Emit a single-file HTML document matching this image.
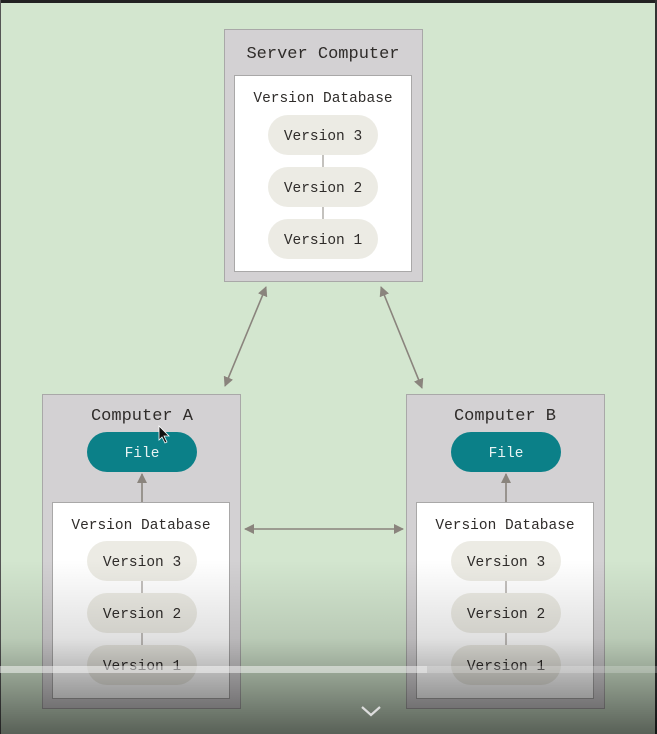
<!DOCTYPE html>
<html><head><meta charset="utf-8"><style>
html,body{margin:0;padding:0;width:657px;height:734px;overflow:hidden;background:#d3e6cf}
svg{display:block}
text{font-family:"Liberation Mono","DejaVu Sans Mono",monospace;fill:#2f2c2a}
</style></head><body>
<svg width="657" height="734" viewBox="0 0 657 734" xmlns="http://www.w3.org/2000/svg">
<defs>
<marker id="ah" markerWidth="10" markerHeight="10" refX="9" refY="5" orient="auto-start-reverse" markerUnits="userSpaceOnUse">
<path d="M0,0 L10,5 L0,10 Z" fill="#8a847d"/></marker>
<linearGradient id="ov" x1="0" y1="0" x2="0" y2="1">
<stop offset="0" stop-color="#000" stop-opacity="0"/>
<stop offset="0.45" stop-color="#000" stop-opacity="0.12"/>
<stop offset="1" stop-color="#000" stop-opacity="0.58"/>
</linearGradient>
</defs>
<rect width="657" height="734" fill="#d3e6cf"/>
<rect x="0" y="0" width="657" height="3" fill="#222"/>
<rect x="0" y="0" width="1" height="734" fill="#555"/>
<rect x="655" y="0" width="2" height="734" fill="#333"/>

<g stroke="#8a847d" stroke-width="1.6" fill="none">
<line x1="266" y1="287" x2="225" y2="386" marker-start="url(#ah)" marker-end="url(#ah)"/>
<line x1="381" y1="287" x2="422" y2="388" marker-start="url(#ah)" marker-end="url(#ah)"/>
<line x1="245" y1="529" x2="403" y2="529" marker-start="url(#ah)" marker-end="url(#ah)"/>
</g>

<rect x="224.5" y="29.5" width="198" height="252" fill="#d3d1d3" stroke="#a9a8a8"/>
<text x="323" y="58" font-size="17" text-anchor="middle">Server Computer</text>
<rect x="234.5" y="75.5" width="177" height="196" fill="#fff" stroke="#a9a8a8"/>
<text x="323" y="102" font-size="14.5" text-anchor="middle">Version Database</text>
<line x1="323" y1="150" x2="323" y2="225" stroke="#8a847d"/>
<g font-size="14.5" text-anchor="middle">
<rect x="268" y="115" width="110" height="40" rx="20" fill="#ecebe4"/><text x="323" y="140">Version 3</text>
<rect x="268" y="167" width="110" height="40" rx="20" fill="#ecebe4"/><text x="323" y="192">Version 2</text>
<rect x="268" y="219" width="110" height="40" rx="20" fill="#ecebe4"/><text x="323" y="244">Version 1</text>
</g>

<rect x="42.5" y="394.5" width="198" height="314" fill="#d3d1d3" stroke="#a9a8a8"/>
<text x="142" y="420" font-size="17" text-anchor="middle">Computer A</text>
<rect x="87" y="432" width="110" height="40" rx="20" fill="#0b8088"/>
<text x="142" y="457" font-size="14.5" text-anchor="middle" style="fill:#e8f3f3">File</text>
<rect x="52.5" y="502.5" width="177" height="196" fill="#fff" stroke="#a9a8a8"/>
<text x="141" y="529" font-size="14.5" text-anchor="middle">Version Database</text>
<line x1="142" y1="575" x2="142" y2="650" stroke="#8a847d"/>
<g font-size="14.5" text-anchor="middle">
<rect x="87" y="541" width="110" height="40" rx="20" fill="#ecebe4"/><text x="142" y="566">Version 3</text>
<rect x="87" y="593" width="110" height="40" rx="20" fill="#ecebe4"/><text x="142" y="618">Version 2</text>
<rect x="87" y="645" width="110" height="40" rx="20" fill="#ecebe4"/><text x="142" y="670">Version 1</text>
</g>

<rect x="406.5" y="394.5" width="198" height="314" fill="#d3d1d3" stroke="#a9a8a8"/>
<text x="505" y="420" font-size="17" text-anchor="middle">Computer B</text>
<rect x="451" y="432" width="110" height="40" rx="20" fill="#0b8088"/>
<text x="506" y="457" font-size="14.5" text-anchor="middle" style="fill:#e8f3f3">File</text>
<rect x="416.5" y="502.5" width="177" height="196" fill="#fff" stroke="#a9a8a8"/>
<text x="505" y="529" font-size="14.5" text-anchor="middle">Version Database</text>
<line x1="506" y1="575" x2="506" y2="650" stroke="#8a847d"/>
<g font-size="14.5" text-anchor="middle">
<rect x="451" y="541" width="110" height="40" rx="20" fill="#ecebe4"/><text x="506" y="566">Version 3</text>
<rect x="451" y="593" width="110" height="40" rx="20" fill="#ecebe4"/><text x="506" y="618">Version 2</text>
<rect x="451" y="645" width="110" height="40" rx="20" fill="#ecebe4"/><text x="506" y="670">Version 1</text>
</g>

<g stroke="#8a847d" stroke-width="1.6" fill="none">
<line x1="142" y1="502" x2="142" y2="474" marker-end="url(#ah)"/>
<line x1="506" y1="502" x2="506" y2="474" marker-end="url(#ah)"/>
</g>

<path d="M159,426 L159,440 L162,437 L165,443 L167,442 L164,436 L169,436 Z" fill="#111" stroke="#fff" stroke-width="0.8"/>

<rect x="0" y="560" width="657" height="174" fill="url(#ov)"/>
<rect x="0" y="666" width="657" height="7" fill="#fff" fill-opacity="0.22"/>
<rect x="0" y="666" width="427" height="7" fill="#fff" fill-opacity="0.35"/>
<polyline points="362,707 371,715 380,707" fill="none" stroke="#ddd" stroke-width="2.2"/>
</svg>
</body></html>
